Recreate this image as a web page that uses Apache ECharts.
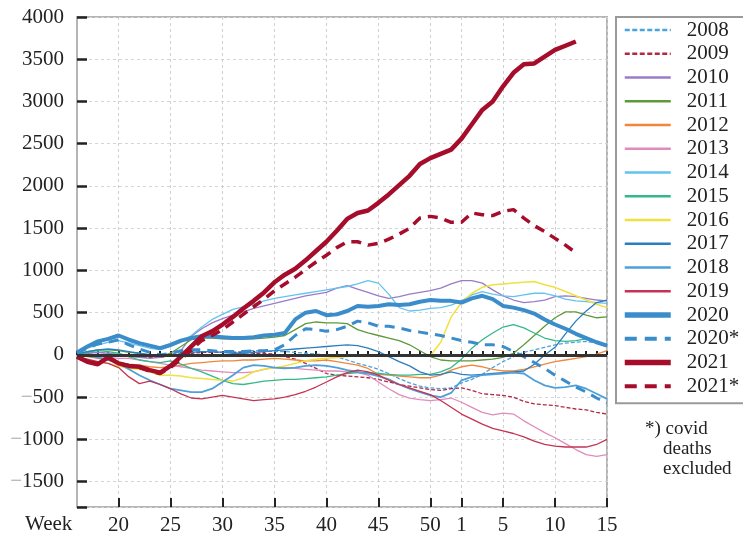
<!DOCTYPE html>
<html>
<head>
<meta charset="utf-8">
<script src="https://cdn.jsdelivr.net/npm/echarts@6/dist/echarts.min.js"></script>
<style>
  html, body { margin: 0; padding: 0; background: #fff; }
  #chart { width: 743px; height: 540px; }
</style>
</head>
<body>
<div id="chart"></div>
<script>
// weeks 16..52 of the first year, then 1..15 of the next
const weeks = [16,17,18,19,20,21,22,23,24,25,26,27,28,29,30,31,32,33,34,35,36,37,38,39,40,
  41,42,43,44,45,46,47,48,49,50,51,52,1,2,3,4,5,6,7,8,9,10,11,12,13,14,15]
const labelledWeeks = [20,25,30,35,40,45,50,1,5,10,15]
const yTicks = [-1500,-1000,-500,0,500,1000,1500,2000,2500,3000,3500,4000]

const y2008 = [0,20,30,20,0,-10,-20,-30,-20,0,20,30,40,40,30,30,40,50,50,40,40,30,20,10,0,-20,-60,-100,-130,-170,-220,-280,-330,-370,-390,-400,-390,-330,-290,-230,-150,-80,-20,30,60,90,120,140,150,160,140,100]
const y2009 = [0,-10,-20,-10,0,-10,-20,-30,-30,-10,10,20,30,30,30,30,30,20,20,10,-20,-50,-100,-160,-220,-240,-250,-260,-270,-290,-320,-350,-370,-390,-410,-420,-400,-390,-420,-460,-470,-480,-500,-550,-580,-590,-600,-620,-640,-650,-680,-700]
const y2010 = [0,20,30,20,0,-20,-30,-40,-30,0,50,220,310,380,430,470,510,550,580,610,640,670,700,720,740,790,820,780,740,700,670,690,720,740,760,790,840,880,880,850,770,700,650,620,630,650,690,700,690,670,650,640]
const y2011 = [10,40,60,60,50,30,20,0,-20,20,100,180,200,200,190,190,190,190,200,210,230,300,370,390,380,380,370,300,260,230,200,170,120,50,-20,-60,-70,-70,-70,-60,-50,-30,20,120,230,340,440,510,510,470,440,450]
const y2012 = [0,-20,-40,-60,-90,-110,-120,-140,-150,-140,-120,-100,-90,-80,-70,-70,-60,-60,-50,-40,-50,-60,-70,-70,-60,-80,-100,-120,-160,-230,-240,-250,-260,-270,-270,-240,-180,-140,-120,-140,-170,-190,-190,-170,-140,-110,-80,-60,-40,-20,10,50]
const y2013 = [0,0,-20,-30,-40,-40,-60,-80,-100,-120,-140,-160,-180,-190,-200,-210,-210,-200,-170,-150,-150,-160,-170,-180,-190,-190,-200,-210,-240,-320,-400,-470,-510,-530,-540,-530,-510,-560,-620,-680,-710,-690,-700,-780,-850,-920,-980,-1050,-1120,-1180,-1200,-1180]
const y2014 = [20,80,120,150,170,140,110,80,60,100,150,230,330,420,480,540,570,600,640,670,690,710,730,750,770,790,810,840,880,850,720,560,520,530,550,560,590,640,710,750,720,700,690,710,730,730,700,660,640,630,620,610]
const y2015 = [0,30,50,40,20,-20,-60,-80,-90,-70,-110,-160,-200,-250,-300,-340,-350,-330,-310,-300,-290,-290,-280,-270,-260,-240,-220,-210,-210,-220,-230,-240,-240,-230,-230,-200,-150,-50,80,180,260,330,360,320,260,200,170,160,170,190,150,100]
const y2016 = [-20,-60,-80,-100,-130,-160,-170,-200,-240,-240,-250,-270,-280,-290,-300,-310,-270,-200,-170,-150,-130,-100,-70,-50,-40,-30,-20,-10,0,0,-10,-10,-10,0,-10,150,450,620,730,800,830,840,850,860,870,830,800,750,700,650,600,560]
const y2017 = [10,40,60,70,60,40,20,0,-20,-10,10,30,40,40,30,20,20,30,40,50,60,70,80,90,100,110,120,110,80,40,-20,-80,-130,-200,-240,-230,-200,-230,-240,-230,-220,-210,-200,-190,-110,0,90,250,400,520,620,650]
const y2018 = [0,-10,-30,-60,-100,-170,-240,-300,-350,-400,-420,-440,-440,-400,-320,-240,-150,-120,-130,-150,-160,-150,-130,-120,-130,-150,-180,-200,-220,-250,-290,-350,-400,-440,-480,-500,-450,-300,-260,-240,-230,-220,-210,-220,-300,-360,-390,-380,-360,-400,-460,-520]
const y2019 = [-20,-50,-80,-100,-150,-260,-340,-310,-350,-400,-460,-510,-520,-500,-480,-500,-520,-540,-530,-520,-500,-470,-430,-380,-320,-260,-210,-180,-200,-240,-300,-350,-390,-430,-470,-540,-620,-700,-760,-820,-870,-900,-930,-970,-1020,-1060,-1080,-1090,-1090,-1090,-1060,-1000]
const y2020 = [30,100,160,190,230,180,140,110,80,120,170,200,220,220,210,200,200,210,230,240,260,420,500,520,470,480,520,580,570,580,600,590,600,630,650,640,640,620,670,700,660,580,560,530,490,420,360,310,250,200,150,110]
const y2020x = [20,80,130,150,180,120,70,30,0,20,50,60,60,50,40,40,40,50,50,60,120,230,310,300,280,300,340,400,380,340,340,320,290,270,250,230,200,170,150,120,120,100,40,-20,-90,-160,-240,-310,-380,-440,-510,-570]
const y2021 = [-20,-80,-110,-30,-100,-130,-140,-180,-210,-130,-20,100,220,280,360,450,550,640,740,860,950,1020,1120,1230,1340,1470,1610,1680,1710,1800,1900,2010,2120,2260,2330,2380,2430,2560,2730,2900,3000,3180,3340,3440,3450,3530,3610,3660,3710,null,null,null]
const y2021x = [-20,-80,-110,-30,-100,-130,-150,-190,-220,-150,-50,60,170,230,300,390,480,570,660,760,840,920,1010,1100,1180,1270,1340,1340,1300,1320,1370,1430,1500,1620,1640,1620,1570,1570,1680,1660,1650,1700,1720,1620,1530,1460,1380,1300,1210,null,null,null]

const serif = '"Liberation Serif", "DejaVu Serif", serif'
const labelledIdx = weeks.map((w, i) => (i >= 4 && labelledWeeks.indexOf(w) >= 0 && !(w === 1 && i < 30)) ? i : -1).filter(i => i >= 0)
const isLabelled = (i) => labelledIdx.indexOf(i) >= 0

function line(name, data, color, width, dash) {
    return {
        name: name,
        type: 'line',
        data: data,
        symbol: 'none',
        connectNulls: false,
        lineStyle: { color: color, width: width, type: dash || 'solid' },
        itemStyle: { color: color },
        emphasis: { disabled: true },
        z: 2
    }
}

var myChart = echarts.init(document.getElementById('chart'))

let series = [
    line('2008', y2008, '#4aa3df', 1.3, [4, 2]),
    line('2009', y2009, '#b22846', 1.3, [4, 2]),
    line('2010', y2010, '#9a7cc6', 1.3),
    line('2011', y2011, '#5d9a3a', 1.3),
    line('2012', y2012, '#f0873a', 1.3),
    line('2013', y2013, '#e18bbd', 1.3),
    line('2014', y2014, '#63c3f0', 1.3),
    line('2015', y2015, '#34b889', 1.3),
    line('2016', y2016, '#f0e040', 1.5),
    line('2017', y2017, '#2a7ec0', 1.3),
    line('2018', y2018, '#4f9fd8', 1.8),
    line('2019', y2019, '#c43452', 1.3),
    line('2020', y2020, '#3a8ccb', 4),
    line('2020*', y2020x, '#3a8ccb', 3, [10, 7]),
    line('2021', y2021, '#a50d2b', 4.5),
    line('2021*', y2021x, '#a50d2b', 3.5, [10, 7]),
]
// zero line
series[0].markLine = {
    silent: true,
    symbol: 'none',
    label: { show: false },
    lineStyle: { color: '#333', width: 3, type: 'solid' },
    data: [{ yAxis: 0 }]
}

// legend icons: thicker than the plot lines, as in the original
const legendData = series.map(s => {
    let w = s.lineStyle.width
    let dash = s.lineStyle.type
    let lw = w > 3.5 ? 5.5 : (w >= 3 ? 4 : 2.6)
    if (dash === 'solid') dash = 'solid'
    else if (w < 2) dash = [5, 2.5]
    else dash = [12, 8]
    return { name: s.name, lineStyle: { width: lw, type: dash, color: s.lineStyle.color } }
})

option = {
    animation: false,
    backgroundColor: '#fff',
    grid: {
        left: 77, top: 17, right: 136, bottom: 33,
        show: true, borderColor: '#b5b5b5', borderWidth: 2
    },
    legend: {
        orient: 'vertical',
        left: 616, top: 17,
        padding: [2, 40, 6, 6],
        itemWidth: 46, itemHeight: 12, itemGap: 1.75,
        borderColor: '#9a9a9a', borderWidth: 2,
        selectedMode: false,
        itemStyle: { opacity: 0, borderWidth: 0 },
        textStyle: { fontFamily: serif, fontSize: 21, color: '#222', lineHeight: 22, padding: [0, 0, 0, 11] },
        data: legendData
    },
    xAxis: [{
        type: 'category',
        data: weeks,
        boundaryGap: false,
        axisLine: { show: false },
        axisTick: { show: true, inside: true, length: 4, lineStyle: { color: '#222', width: 2 }, interval: 0 },
        axisLabel: {
            interval: (i) => isLabelled(i),
            margin: 8,
            fontFamily: serif, fontSize: 21, color: '#222'
        },
        splitLine: { show: true, interval: (i) => isLabelled(i), lineStyle: { color: '#cfcfcf', type: [3, 3] } }
    }, {
        type: 'category',
        data: weeks,
        boundaryGap: false,
        position: 'bottom',
        axisLine: { show: false },
        axisTick: { show: true, inside: true, length: 9, interval: (i) => isLabelled(i), lineStyle: { color: '#222', width: 2 } },
        axisLabel: { show: false },
        splitLine: { show: false }
    }],
    yAxis: {
        type: 'value',
        min: -1800, max: 4000,
        splitNumber: 12,
        axisLine: { show: false },
        axisTick: { show: true, inside: true, length: 10, lineStyle: { color: '#222', width: 2.5 } },
        axisLabel: {
            margin: 13,
            fontFamily: serif, fontSize: 21, color: '#222',
            formatter: (v) => {
                if (yTicks.indexOf(v) < 0) return ''
                return v < 0 ? '{g|\u2212}' + Math.abs(v) : '' + v
            },
            rich: { g: { color: '#aaa', fontFamily: serif, fontSize: 21 } }
        },
        splitLine: { show: true, lineStyle: { color: '#d5d5d5', type: [3, 3] } }
    },
    graphic: [
        { type: 'text', left: 25, top: 514, style: { text: 'Week', font: '21px ' + serif, fill: '#222' } },
        { type: 'text', left: 645, top: 420, style: { text: '*) covid', font: '19px ' + serif, fill: '#222' } },
        { type: 'text', left: 663, top: 440, style: { text: 'deaths', font: '19px ' + serif, fill: '#222' } },
        { type: 'text', left: 663, top: 460, style: { text: 'excluded', font: '19px ' + serif, fill: '#222' } }
    ],
    series: series
}
myChart.setOption(option)
</script>
</body>
</html>
